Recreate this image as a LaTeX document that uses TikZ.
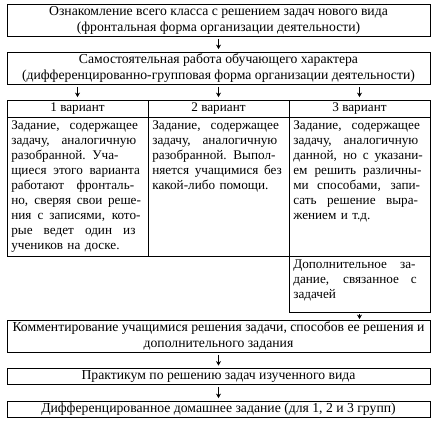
\documentclass[tikz,border=0pt]{standalone}
\usepackage{fontspec}
\setmainfont{Liberation Serif}
\usetikzlibrary{arrows.meta}
\newlength{\cellw}
\setlength{\cellw}{132pt}
\newcommand{\jl}[1]{\makebox[\cellw][l]{\spaceskip=0.25em plus 1fil minus 0.1em\relax #1}\\}
\newcommand{\boxfont}{\fontsize{13.7}{16}\selectfont}
\newcommand{\cellfont}{\fontsize{13.2}{15}\selectfont}
\begin{document}
\begin{tikzpicture}[x=1pt,y=-1pt,
  box/.style={draw, line width=0.8pt, inner sep=0pt, align=center, font=\boxfont},
  cellbox/.style={draw, line width=0.8pt, inner sep=0pt, minimum width=141pt},
  celltext/.style={inner sep=0pt, anchor=north west, text width=\cellw, align=left, font=\cellfont},
  arr/.style={-{Stealth[length=4.5pt,width=5pt]}, line width=1.1pt, shorten <=2.5pt, shorten >=2.5pt}]
\useasboundingbox (0,0) rectangle (437,426);
% top boxes
\node[box, minimum width=423pt, minimum height=32pt] (b1) at (218.5,20)
  {Ознакомление всего класса с решением задач нового вида\\(фронтальная форма организации  деятельности)};
\node[box, minimum width=423pt, minimum height=32pt] (b2) at (218.5,68)
  {Самостоятельная работа обучающего характера\\(дифференцированно-групповая форма организации деятельности)};
% table headers
\node[cellbox, minimum height=17pt, font=\cellfont] (h1) at (77.5,108.5) {1 вариант};
\node[cellbox, minimum height=17pt, font=\cellfont] (h2) at (218.5,108.5) {2 вариант};
\node[cellbox, minimum height=17pt, font=\cellfont] (h3) at (359.5,108.5) {3 вариант};
% cells
\node[cellbox, minimum height=139pt] (c1) at (77.5,186.5) {};
\node[cellbox, minimum height=139pt] (c2) at (218.5,186.5) {};
\node[cellbox, minimum height=139pt] (c3) at (359.5,186.5) {};
\node[cellbox, minimum height=56pt] (c4) at (359.5,284) {};
\node[celltext] (t1) at ([xshift=4.5pt,yshift=-4pt]c1.north west) {\jl{Задание, содержащее}\jl{задачу, аналогичную}\jl{разобранной. Уча-}\jl{щиеся этого варианта}\jl{работают фронталь-}\jl{но, сверяя свои реше-}\jl{ния с записями, кото-}\jl{рые ведет один из}учеников на доске.};
\node[celltext] (t2) at ([xshift=4.5pt,yshift=-4pt]c2.north west) {\jl{Задание, содержащее}\jl{задачу, аналогичную}\jl{разобранной. Выпол-}\jl{няется учащимися без}какой-либо помощи.};
\node[celltext] (t3) at ([xshift=4.5pt,yshift=-4pt]c3.north west) {\jl{Задание, содержащее}\jl{задачу, аналогичную}\jl{данной, но с указани-}\jl{ем решить различны-}\jl{ми способами, запи-}\jl{сать решение выра-}жением и т.д.};
\node[celltext] (t4) at ([xshift=4.5pt,yshift=-4pt]c4.north west) {\jl{Дополнительное за-}\jl{дание, связанное с}задачей};
% lower boxes
\node[box, minimum width=423pt, minimum height=32pt] (b3) at (218.5,336)
  {Комментирование учащимися решения задачи, способов ее решения и\\дополнительного задания};
\node[box, minimum width=423pt, minimum height=16pt] (b4) at (218.5,376.5)
  {Практикум по решению задач изученного вида};
\node[box, minimum width=423pt, minimum height=16pt] (b5) at (218.5,409)
  {Дифференцированное домашнее задание (для 1, 2 и 3 групп)};
% arrows
\draw[arr] (b1.south) -- (b2.north);
\draw[arr] (b2.south -| h1.north) -- (h1.north);
\draw[arr] (b2.south -| h2.north) -- (h2.north);
\draw[arr] (b2.south -| h3.north) -- (h3.north);
\draw[arr, shorten <=1.5pt, shorten >=0.5pt] (c4.south) -- (c4.south |- b3.north);
\draw[arr] (b3.south) -- (b4.north);
\draw[arr] (b4.south) -- (b5.north);
\end{tikzpicture}
\end{document}
